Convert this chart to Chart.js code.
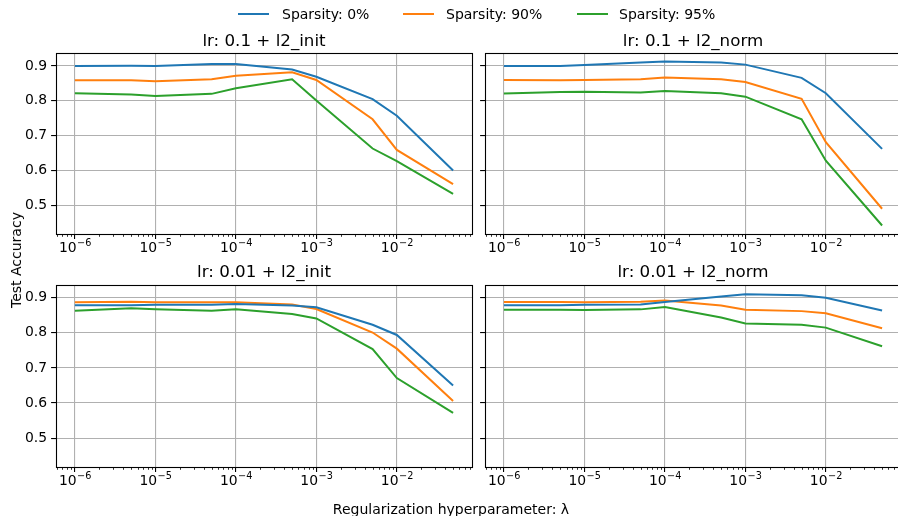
<!DOCTYPE html>
<html>
<head>
<meta charset="utf-8">
<script src="https://cdn.jsdelivr.net/npm/chart.js@4.4.1/dist/chart.umd.min.js"></script>
<style>
html,body{margin:0;padding:0;width:898px;height:516px;overflow:hidden;background:#fff;font-family:'DejaVu Sans',sans-serif;}
canvas.panel{position:absolute;left:0;top:0;}
.lg-line{position:absolute;height:2px;}
.lg-text{position:absolute;font-size:14px;line-height:1;color:#000;white-space:nowrap;}
#ylabel{position:absolute;font-size:14px;line-height:1;white-space:nowrap;transform:translate(-50%,-50%) rotate(-90deg);left:16px;top:260px;}
#xlabel{position:absolute;font-size:14px;line-height:1;white-space:nowrap;transform:translateX(-50%);left:451px;top:502px;}
</style>
</head>
<body>
<canvas class="panel" id="p0" width="910" height="516"></canvas>
<canvas class="panel" id="p1" width="910" height="516"></canvas>
<canvas class="panel" id="p2" width="910" height="516"></canvas>
<canvas class="panel" id="p3" width="910" height="516"></canvas>
<div id="legend"></div>
<div id="ylabel">Test Accuracy</div>
<div id="xlabel">Regularization hyperparameter: λ</div>
<script>
// ---- data ----
const lambdas = [1e-6, 5e-6, 1e-5, 5e-5, 1e-4, 5e-4, 1e-3, 5e-3, 1e-2, 5e-2];
const seriesNames = ['Sparsity: 0%', 'Sparsity: 90%', 'Sparsity: 95%'];
const panelTitles = ['lr: 0.1 + l2_init', 'lr: 0.1 + l2_norm', 'lr: 0.01 + l2_init', 'lr: 0.01 + l2_norm'];
const xTickValues = [1e-6, 1e-5, 1e-4, 1e-3, 1e-2];
const yTickValues = [0.5, 0.6, 0.7, 0.8, 0.9];

const acc_lr01_init_s0   = [0.900, 0.901, 0.900, 0.906, 0.906, 0.890, 0.869, 0.805, 0.757, 0.600];
const acc_lr01_init_s90  = [0.859, 0.859, 0.856, 0.862, 0.872, 0.882, 0.860, 0.747, 0.659, 0.561];
const acc_lr01_init_s95  = [0.822, 0.818, 0.814, 0.820, 0.836, 0.862, 0.801, 0.663, 0.627, 0.533];

const acc_lr01_norm_s0   = [0.900, 0.900, 0.903, 0.910, 0.913, 0.910, 0.904, 0.866, 0.822, 0.662];
const acc_lr01_norm_s90  = [0.860, 0.859, 0.860, 0.862, 0.867, 0.862, 0.854, 0.806, 0.681, 0.490];
const acc_lr01_norm_s95  = [0.821, 0.825, 0.826, 0.824, 0.828, 0.822, 0.812, 0.747, 0.628, 0.442];

const acc_lr001_init_s0  = [0.879, 0.879, 0.880, 0.880, 0.882, 0.878, 0.873, 0.823, 0.794, 0.650];
const acc_lr001_init_s90 = [0.887, 0.889, 0.887, 0.887, 0.887, 0.881, 0.868, 0.801, 0.755, 0.606];
const acc_lr001_init_s95 = [0.863, 0.870, 0.867, 0.863, 0.867, 0.854, 0.841, 0.754, 0.671, 0.572];

const acc_lr001_norm_s0  = [0.879, 0.879, 0.880, 0.881, 0.888, 0.904, 0.910, 0.907, 0.900, 0.864];
const acc_lr001_norm_s90 = [0.888, 0.888, 0.887, 0.889, 0.892, 0.878, 0.866, 0.862, 0.856, 0.813];
const acc_lr001_norm_s95 = [0.866, 0.866, 0.865, 0.867, 0.874, 0.844, 0.827, 0.823, 0.815, 0.762];

const panelSeries = [
  [acc_lr01_init_s0, acc_lr01_init_s90, acc_lr01_init_s95],
  [acc_lr01_norm_s0, acc_lr01_norm_s90, acc_lr01_norm_s95],
  [acc_lr001_init_s0, acc_lr001_init_s90, acc_lr001_init_s95],
  [acc_lr001_norm_s0, acc_lr001_norm_s90, acc_lr001_norm_s95]
];

// ---- styling / layout ----
const colors = ['#1f77b4', '#ff7f0e', '#2ca02c'];
const CW = 910, CH = 516;
const Y_W = 40, X_H = 30;
const TITLE_SIZE = 16.7, TITLE_PAD_B = 2;
const TITLE_H = TITLE_SIZE * 1.2 + TITLE_PAD_B;
const panelBoxes = [
  {l: 56,  r: 472, t: 53.3, b: 234},
  {l: 485, r: 901, t: 53.3, b: 234},
  {l: 56,  r: 472, t: 285,  b: 467},
  {l: 485, r: 901, t: 285,  b: 467}
];
const X_MIN = Math.pow(10, -6.235), X_MAX = Math.pow(10, -1.066);
const Y_MIN = 0.4175, Y_MAX = 0.9365;
const FONT = "'DejaVu Sans', sans-serif";

Chart.defaults.font.family = FONT;
Chart.defaults.font.size = 13.9;
Chart.defaults.color = '#000';

const framePlugin = {
  id: 'frame',
  afterDraw(chart) {
    const ctx = chart.ctx, a = chart.chartArea, xs = chart.scales.x;
    ctx.save();
    ctx.strokeStyle = '#000';
    ctx.lineWidth = 0.8;
    // minor log ticks
    for (let e = -7; e <= -1; e++) {
      for (let m = 2; m <= 9; m++) {
        const v = m * Math.pow(10, e);
        if (v < xs.min || v > xs.max) continue;
        const px = Math.round(xs.getPixelForValue(v)) + 0.5;
        ctx.beginPath();
        ctx.moveTo(px, a.bottom);
        ctx.lineTo(px, a.bottom + 2.8);
        ctx.stroke();
      }
    }
    // axes frame
    ctx.lineWidth = 1.1;
    ctx.strokeRect(Math.round(a.left) + 0.5, Math.round(a.top) + 0.5,
                   Math.round(a.right) - Math.round(a.left), Math.round(a.bottom) - Math.round(a.top));
    // x tick labels as 10 with raised exponent (mathtext style)
    ctx.fillStyle = '#000';
    ctx.textBaseline = 'alphabetic';
    ctx.textAlign = 'left';
    xs.ticks.forEach(t => {
      const e = Math.round(Math.log10(t.value));
      const base = '10', sup = '\u2212' + String(Math.abs(e));
      ctx.font = '13.9px ' + FONT;
      const w1 = ctx.measureText(base).width;
      ctx.font = '9.7px ' + FONT;
      const w2 = ctx.measureText(sup).width;
      const px = xs.getPixelForValue(t.value);
      const x0 = px - (w1 + w2) / 2;
      ctx.font = '13.9px ' + FONT;
      ctx.fillText(base, x0, a.bottom + 18);
      ctx.font = '9.7px ' + FONT;
      ctx.fillText(sup, x0 + w1 + 0.5, a.bottom + 12.3);
    });
    ctx.restore();
  }
};

panelBoxes.forEach((box, i) => {
  const isLeft = (i % 2 === 0);
  const datasets = panelSeries[i].map((vals, k) => ({
    label: seriesNames[k],
    data: lambdas.map((x, j) => ({x: x, y: vals[j]})),
    borderColor: colors[k],
    backgroundColor: colors[k],
    borderWidth: 2,
    pointRadius: 0,
    tension: 0,
    fill: false
  }));
  new Chart(document.getElementById('p' + i), {
    type: 'line',
    data: {datasets},
    options: {
      responsive: false,
      animation: false,
      devicePixelRatio: 1,
      layout: {padding: {
        left: box.l - Y_W,
        right: CW - box.r,
        top: box.t - TITLE_H,
        bottom: CH - box.b - X_H
      }},
      plugins: {
        legend: {display: false},
        tooltip: {enabled: false},
        title: {
          display: true,
          text: panelTitles[i],
          fullSize: false,
          font: {size: TITLE_SIZE, weight: 'normal'},
          color: '#000',
          padding: {top: 0, bottom: TITLE_PAD_B}
        }
      },
      scales: {
        x: {
          type: 'logarithmic',
          min: X_MIN,
          max: X_MAX,
          afterBuildTicks: s => { s.ticks = xTickValues.map(v => ({value: v, major: true})); },
          afterFit: s => { s.height = X_H; },
          ticks: {display: false, autoSkip: false, maxRotation: 0, minRotation: 0},
          grid: {color: '#b0b0b0', lineWidth: 1.1, tickColor: '#000', tickLength: 4.9, tickWidth: 1.1},
          border: {display: false}
        },
        y: {
          type: 'linear',
          min: Y_MIN,
          max: Y_MAX,
          afterBuildTicks: s => { s.ticks = yTickValues.map(v => ({value: v})); },
          afterFit: s => { s.width = Y_W; },
          ticks: {
            display: isLeft, padding: 4,
            callback: v => v.toFixed(1),
            font: {size: 13.9}
          },
          grid: {color: '#b0b0b0', lineWidth: 1.1, tickColor: '#000', tickLength: 4.9, tickWidth: 1.1},
          border: {display: false}
        }
      }
    },
    plugins: [framePlugin]
  });
});

// ---- legend (HTML) ----
const legend = document.getElementById('legend');
const legendLines = [238, 403, 577];
const legendTexts = [282, 446, 619];
seriesNames.forEach((name, k) => {
  const ln = document.createElement('div');
  ln.className = 'lg-line';
  ln.style.left = legendLines[k] + 'px';
  ln.style.top = '13px';
  ln.style.width = '31px';
  ln.style.background = colors[k];
  legend.appendChild(ln);
  const tx = document.createElement('div');
  tx.className = 'lg-text';
  tx.style.left = legendTexts[k] + 'px';
  tx.style.top = '7px';
  tx.textContent = name;
  legend.appendChild(tx);
});
</script>
</body>
</html>
